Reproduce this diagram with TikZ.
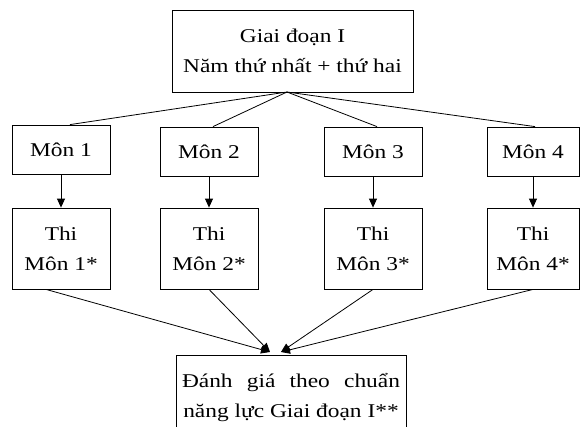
\documentclass[tikz,border=0pt]{standalone}
\usepackage{fontspec}
\setmainfont{Liberation Serif}[FakeStretch=1.2]
\usetikzlibrary{arrows.meta}
\tikzset{
	khung/.style = {draw, line width=0.8pt, inner sep=0pt, align=center, font=\fontsize{19.5}{30}\selectfont},
	monbox/.style = {khung, minimum width=98pt, minimum height=49pt},
	thibox/.style = {khung, minimum width=98pt, minimum height=81pt},
	noi/.style = {line width=0.8pt},
	muiten/.style = {line width=0.8pt, -{Triangle[length=9pt,width=8pt]}},
}
\begin{document}
\begin{tikzpicture}[x=1pt,y=-1pt]
					\useasboundingbox (0,0) rectangle (580,426);
					% giai doan I
					\node[khung, minimum width=241pt, minimum height=82pt] (gd) at (292.5,51) {Giai đoạn I\\Năm thứ nhất + thứ hai};
					% cac mon
					\node[monbox] (mon1) at (61,149.5) {Môn 1};
					\node[monbox] (mon2) at (209,151.5) {Môn 2};
					\node[monbox] (mon3) at (373,151.5) {Môn 3};
					\node[monbox, minimum width=92pt] (mon4) at (533,151.5) {Môn 4};
					% thi
					\node[thibox] (thi1) at (61,248.5) {Thi\\Môn 1*};
					\node[thibox] (thi2) at (209,248.5) {Thi\\Môn 2*};
					\node[thibox] (thi3) at (373,248.5) {Thi\\Môn 3*};
					\node[thibox, minimum width=92pt] (thi4) at (533,248.5) {Thi\\Môn 4*};
					% danh gia
					\node[khung, anchor=north, minimum width=230pt, minimum height=85pt] (dg) at (291,355) {\hbox to 218pt{Đánh\hfill giá\hfill theo\hfill chuẩn}\\năng lực Giai đoạn I**};
					\coordinate (dinh) at (287,92);
					\draw[noi] (dinh) -- ([xshift=9pt]mon1.north);
					\draw[noi] (dinh) -- ([xshift=4pt]mon2.north);
					\draw[noi] (dinh) -- ([xshift=4pt]mon3.north);
					\draw[noi] (dinh) -- ([xshift=2pt]mon4.north);
					\draw[muiten] (mon1) -- (thi1);
					\draw[muiten] (mon2) -- (thi2);
					\draw[muiten] (mon3) -- (thi3);
					\draw[muiten] (mon4) -- (thi4);
					\coordinate (vao1) at ([xshift=-21pt,yshift=3pt]dg.north);
					\coordinate (vao2) at ([xshift=-10pt,yshift=3pt]dg.north);
					\draw[muiten] ([xshift=-15pt]thi1.south) -- (vao1);
					\draw[muiten] (thi2.south) -- (vao1);
					\draw[muiten] (thi3.south) -- (vao2);
					\draw[muiten] (thi4.south) -- (vao2);
				\end{tikzpicture}
\end{document}
